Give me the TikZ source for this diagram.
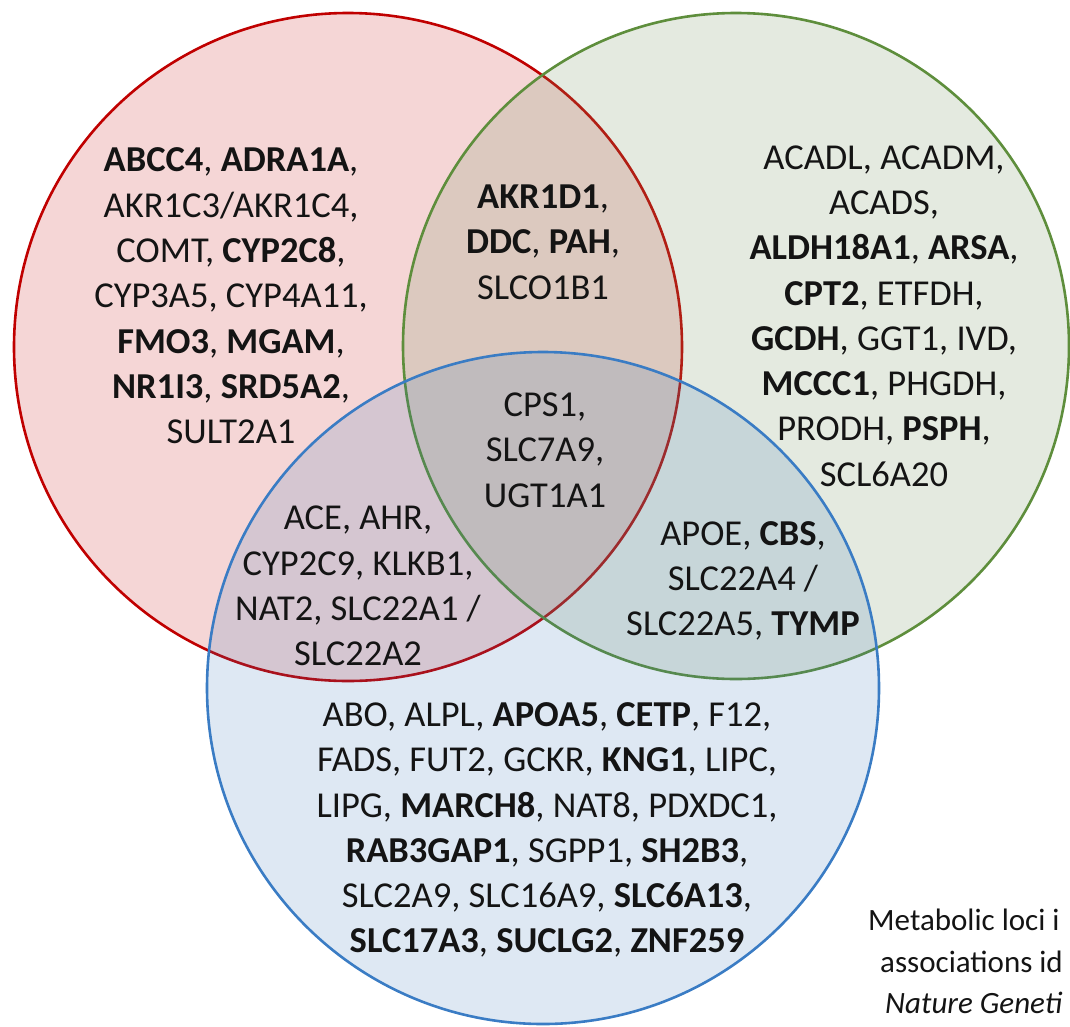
\documentclass[tikz,border=0pt]{standalone}
\usepackage{fontspec}
\setmainfont{Carlito}
\definecolor{redc}{HTML}{C00000}
\definecolor{redfill}{HTML}{C00000}
\definecolor{greenc}{HTML}{5E8E3C}
\definecolor{greenfill}{HTML}{789664}
\definecolor{bluec}{HTML}{3A7CC4}
\definecolor{bluefill}{HTML}{316FB4}
\definecolor{txt}{HTML}{141414}
\begin{document}
\begin{tikzpicture}[x=1pt,y=-1pt,
  setcircle/.style={circle, inner sep=0pt, outer sep=0pt, line width=2.6pt, fill opacity=#1},
  lbl/.style={align=center, inner sep=0pt, text=txt, font=\fontsize{36.5}{45.3}\selectfont},
  captext/.style={anchor=west, inner sep=0pt, text=txt, font=\fontsize{31}{36}\selectfont}]
\useasboundingbox (0,0) rectangle (1070,1026);
\clip (0,0) rectangle (1070,1026);
\node[setcircle=0.16, minimum size=668pt, draw=redc, fill=redfill] (red) at (348,347) {};
\node[setcircle=0.2, minimum size=666pt, draw=greenc, fill=greenfill] (green) at (736,346) {};
\node[setcircle=0.16, minimum size=672pt, draw=bluec, fill=bluefill] (blue) at (543,688) {};

\node[lbl] (ronly) at (231,296) {\textbf{ABCC4}, \textbf{ADRA1A},\\ AKR1C3/AKR1C4,\\ COMT, \textbf{CYP2C8},\\ CYP3A5, CYP4A11,\\ \textbf{FMO3}, \textbf{MGAM},\\ \textbf{NR1I3}, \textbf{SRD5A2},\\ SULT2A1};
\node[lbl] (rg) at (543,242) {\textbf{AKR1D1},\\ \textbf{DDC}, \textbf{PAH},\\ SLCO1B1};
\node[lbl] (gonly) at (884,316) {ACADL, ACADM,\\ ACADS,\\ \textbf{ALDH18A1}, \textbf{ARSA},\\ \textbf{CPT2}, ETFDH,\\ \textbf{GCDH}, GGT1, IVD,\\ \textbf{MCCC1}, PHGDH,\\ PRODH, \textbf{PSPH},\\ SCL6A20};
\node[lbl] (rgb) at (545,450) {CPS1,\\ SLC7A9,\\ UGT1A1};
\node[lbl] (rb) at (358,586) {ACE, AHR,\\ CYP2C9, KLKB1,\\ NAT2, SLC22A1 /\\ SLC22A2};
\node[lbl] (gb) at (743,581) {APOE, \textbf{CBS},\\ SLC22A4 /\\ SLC22A5, \textbf{TYMP}};
\node[lbl] (bonly) at (547,830) {ABO, ALPL, \textbf{APOA5}, \textbf{CETP}, F12,\\ FADS, FUT2, GCKR, \textbf{KNG1}, LIPC,\\ LIPG, \textbf{MARCH8}, NAT8, PDXDC1,\\ \textbf{RAB3GAP1}, SGPP1, \textbf{SH2B3},\\ SLC2A9, SLC16A9, \textbf{SLC6A13},\\ \textbf{SLC17A3}, \textbf{SUCLG2}, \textbf{ZNF259}};

\node[captext] (cap1) at (868,920) {Metabolic loci i};
\node[captext] (cap2) at (880,962) {associations id};
\node[captext] (cap3) at (885,1003) {\itshape Nature Geneti};
\end{tikzpicture}
\end{document}
